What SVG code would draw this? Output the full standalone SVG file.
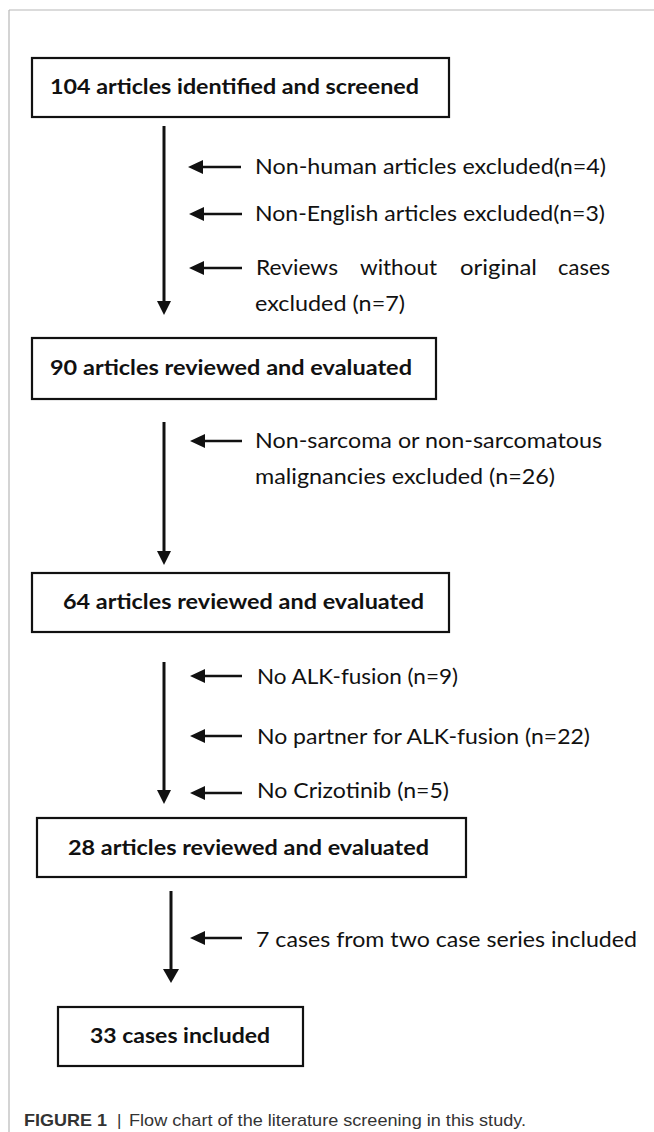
<svg xmlns="http://www.w3.org/2000/svg" width="654" height="1132" viewBox="0 0 654 1132">
  <defs>
    <style>
      .box { fill: #ffffff; stroke: #111111; stroke-width: 2.2; }
      .btxt { font-family: Lato, "Open Sans", "Liberation Sans", sans-serif; font-weight: bold; font-size: 21px; fill: #111111; }
      .ltxt { font-family: Lato, "Open Sans", "Liberation Sans", sans-serif; font-size: 22px; fill: #111111; }
      .vline { stroke: #111111; stroke-width: 3; fill: none; }
      .hline { stroke: #111111; stroke-width: 2.6; fill: none; }
      .head { fill: #111111; }
      .cap { font-family: "Liberation Sans", Arial, sans-serif; font-size: 17px; fill: #333333; }
      .frame { stroke: #b8b8b8; stroke-width: 1.2; fill: none; }
    </style>
  </defs>

  <rect width="654" height="1132" fill="#ffffff"/>
  <g id="frame">
    <line class="frame" x1="9" y1="10" x2="654" y2="10"/>
    <line class="frame" x1="9" y1="10" x2="9" y2="1132"/>
  </g>

  <g id="node-104">
    <rect class="box" x="32" y="58" width="417" height="59"/>
    <text class="btxt" x="50" y="94" textLength="369" lengthAdjust="spacingAndGlyphs">104 articles identified and screened</text>
  </g>

  <g id="node-90">
    <rect class="box" x="32" y="338" width="404" height="61"/>
    <text class="btxt" x="50" y="375" textLength="362" lengthAdjust="spacingAndGlyphs">90 articles reviewed and evaluated</text>
  </g>

  <g id="node-64">
    <rect class="box" x="32" y="573" width="417" height="59"/>
    <text class="btxt" x="63" y="609" textLength="361" lengthAdjust="spacingAndGlyphs">64 articles reviewed and evaluated</text>
  </g>

  <g id="node-28">
    <rect class="box" x="37" y="818" width="429" height="59"/>
    <text class="btxt" x="68" y="855" textLength="361" lengthAdjust="spacingAndGlyphs">28 articles reviewed and evaluated</text>
  </g>

  <g id="node-33">
    <rect class="box" x="58" y="1007" width="245" height="59"/>
    <text class="btxt" x="90" y="1043" textLength="180" lengthAdjust="spacingAndGlyphs">33 cases included</text>
  </g>

  <g id="connectors">
    <line class="vline" x1="164" y1="126" x2="164" y2="301"/>
    <path class="head" d="M157,301 L171,301 L164,315 Z"/>
    <line class="vline" x1="164" y1="422" x2="164" y2="551"/>
    <path class="head" d="M157,551 L171,551 L164,565 Z"/>
    <line class="vline" x1="164" y1="662" x2="164" y2="790"/>
    <path class="head" d="M157,790 L171,790 L164,804 Z"/>
    <line class="vline" x1="171" y1="891" x2="171" y2="969"/>
    <path class="head" d="M163,969 L179,969 L171,983 Z"/>

    <g id="exclusion-arrows">
      <line class="hline" x1="202" y1="167" x2="241" y2="167"/>
      <path class="head" d="M188,167 L203,160 L203,174 Z"/>
      <line class="hline" x1="203" y1="214" x2="242" y2="214"/>
      <path class="head" d="M189,214 L204,207 L204,221 Z"/>
      <line class="hline" x1="203" y1="268" x2="242" y2="268"/>
      <path class="head" d="M189,268 L204,261 L204,275 Z"/>
      <line class="hline" x1="204" y1="441" x2="242" y2="441"/>
      <path class="head" d="M190,441 L205,434 L205,448 Z"/>
      <line class="hline" x1="204" y1="676" x2="242" y2="676"/>
      <path class="head" d="M190,676 L205,669 L205,683 Z"/>
      <line class="hline" x1="204" y1="736" x2="242" y2="736"/>
      <path class="head" d="M190,736 L205,729 L205,743 Z"/>
      <line class="hline" x1="204" y1="793" x2="242" y2="793"/>
      <path class="head" d="M190,793 L205,786 L205,800 Z"/>
      <line class="hline" x1="204" y1="938" x2="242" y2="938"/>
      <path class="head" d="M190,938 L205,931 L205,945 Z"/>
    </g>
  </g>

  <g id="labels">
    <text class="ltxt" x="255" y="174" textLength="351" lengthAdjust="spacingAndGlyphs">Non-human articles excluded(n=4)</text>
    <text class="ltxt" x="255" y="221" textLength="350" lengthAdjust="spacingAndGlyphs">Non-English articles excluded(n=3)</text>
    <text class="ltxt" y="275"><tspan x="256" textLength="82" lengthAdjust="spacingAndGlyphs">Reviews</tspan><tspan x="360" textLength="77" lengthAdjust="spacingAndGlyphs">without</tspan><tspan x="460" textLength="77" lengthAdjust="spacingAndGlyphs">original</tspan><tspan x="558" textLength="52" lengthAdjust="spacingAndGlyphs">cases</tspan></text>
    <text class="ltxt" x="255" y="311" textLength="150" lengthAdjust="spacingAndGlyphs">excluded (n=7)</text>
    <text class="ltxt" x="255" y="448" textLength="347" lengthAdjust="spacingAndGlyphs">Non-sarcoma or non-sarcomatous</text>
    <text class="ltxt" x="255" y="484" textLength="300" lengthAdjust="spacingAndGlyphs">malignancies excluded (n=26)</text>
    <text class="ltxt" x="257" y="684" textLength="201" lengthAdjust="spacingAndGlyphs">No ALK-fusion (n=9)</text>
    <text class="ltxt" x="257" y="744" textLength="333" lengthAdjust="spacingAndGlyphs">No partner for ALK-fusion (n=22)</text>
    <text class="ltxt" x="257" y="798" textLength="192" lengthAdjust="spacingAndGlyphs">No Crizotinib (n=5)</text>
    <text class="ltxt" x="256" y="947" textLength="381" lengthAdjust="spacingAndGlyphs">7 cases from two case series included</text>
  </g>

  <g id="caption">
    <text class="cap" x="24" y="1126" font-weight="bold" fill="#222222" textLength="83" lengthAdjust="spacingAndGlyphs">FIGURE 1</text>
    <text class="cap" x="117" y="1126" fill="#777777">|</text>
    <text class="cap" x="129" y="1126" textLength="397" lengthAdjust="spacingAndGlyphs">Flow chart of the literature screening in this study.</text>
  </g>
</svg>
